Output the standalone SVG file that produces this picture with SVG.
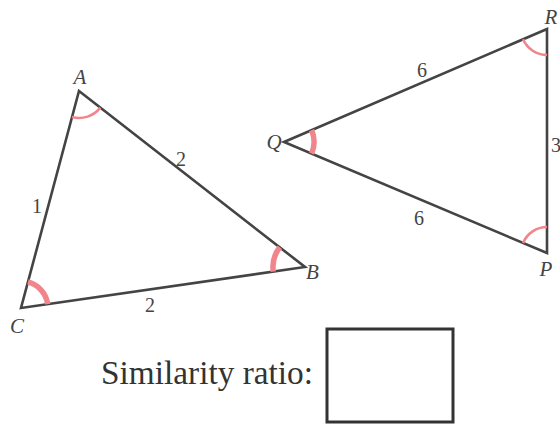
<svg xmlns="http://www.w3.org/2000/svg" width="560" height="427" viewBox="0 0 560 427">
<style>
.edge{stroke:#444;stroke-width:2.6;fill:none;stroke-linejoin:miter}
.ang{stroke:#f0868c;fill:none;stroke-width:2.6}
.ang2{stroke:#f0868c;fill:none;stroke-width:5.5}
.v{font-style:italic;font-size:21px;fill:#444}
.n{font-size:20px;fill:#444}
.t{font-size:33px;fill:#333}
</style>
<rect width="560" height="427" fill="#fff"/>
<g id="connectors">
<polygon id="triangle-ABC" class="edge" points="79,91 305,267 21,308"/>
<polygon id="triangle-QRP" class="edge" points="284,142 547,29 547,253"/>
<path class="ang" d="M72,117.1 A27,27 0 0 0 100.3,107.6"/>
<path class="ang2" d="M28,281.9 A27,27 0 0 1 47.7,304.1"/>
<path class="ang2" d="M279.8,247.3 A32,32 0 0 0 273.3,271.6"/>
<path class="ang2" d="M311.6,130.2 A30,30 0 0 1 311.6,153.7"/>
<path class="ang" d="M523.1,39.3 A26,26 0 0 0 547,55"/>
<path class="ang" d="M523.1,242.9 A26,26 0 0 1 547,227"/>
</g>
<g font-family="Liberation Serif, DejaVu Serif, serif">
<g id="node-A"><text class="v" x="80" y="84" text-anchor="middle">A</text></g>
<g id="node-B"><text class="v" x="306" y="279">B</text></g>
<g id="node-C"><text class="v" x="17" y="333" text-anchor="middle">C</text></g>
<g id="node-Q"><text class="v" x="274" y="149" text-anchor="middle">Q</text></g>
<g id="node-R"><text class="v" x="551" y="24" text-anchor="middle">R</text></g>
<g id="node-P"><text class="v" x="546" y="276" text-anchor="middle">P</text></g>
<g id="side-labels">
<text class="n" x="37" y="213" text-anchor="middle">1</text>
<text class="n" x="181" y="166" text-anchor="middle">2</text>
<text class="n" x="150" y="312" text-anchor="middle">2</text>
<text class="n" x="422" y="77" text-anchor="middle">6</text>
<text class="n" x="419" y="225" text-anchor="middle">6</text>
<text class="n" x="551" y="152" font-size="18">3</text>
</g>
<g id="answer">
<text class="t" x="101" y="384" textLength="212" lengthAdjust="spacingAndGlyphs">Similarity ratio:</text>
<rect x="327" y="329" width="126" height="93" fill="none" stroke="#333" stroke-width="3"/>
</g>
</g>
</svg>
